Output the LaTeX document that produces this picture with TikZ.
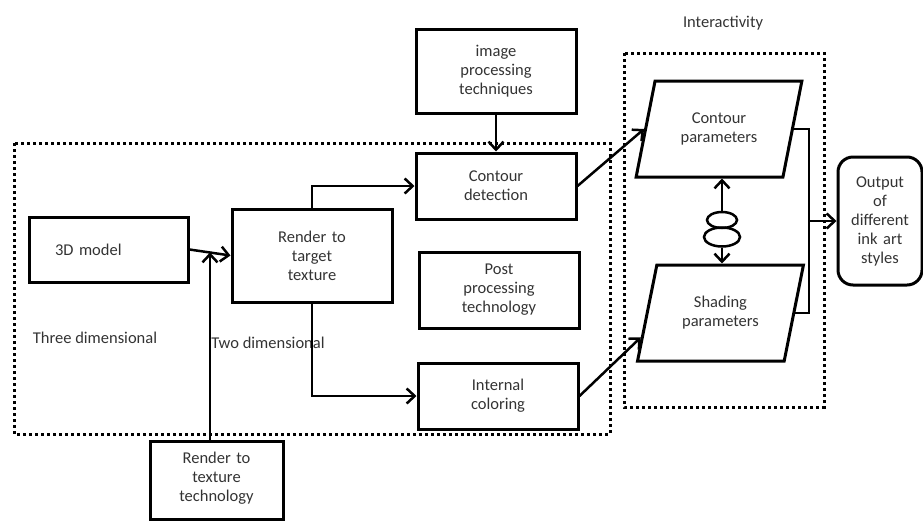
\documentclass[tikz,border=0pt]{standalone}
\usepackage{fontspec}
\setmainfont{Carlito}
\usetikzlibrary{arrows.meta,shapes.geometric,calc}

\begin{document}
\begin{tikzpicture}[x=1pt,y=-1pt,
		font=\fontsize{16.5}{19}\selectfont, text=black!80,
		box/.style={draw=black, line width=3pt, text width=140pt, align=center, inner sep=0pt, minimum width=160pt},
		para/.style={draw=black, trapezium, trapezium left angle=63.3, trapezium right angle=116.7, trapezium stretches=true, line width=3pt, minimum width=166pt, minimum height=96pt, text width=110pt, align=center, inner sep=0pt},
		grp/.style={line width=3pt, dash pattern=on 3pt off 3pt},
		arr/.style={line width=2.5pt, -{Straight Barb[length=8pt,width=15pt]}},
		lnk/.style={line width=2.5pt}]
		\useasboundingbox (0,0) rectangle (923,520);
		\draw[grp] (14,143) rectangle (610,434);
		\draw[grp] (624,53) rectangle (824,407);
		\node[box, minimum height=84pt] (img) at (496,71) {image\\processing\\techniques};
		\node[box, minimum height=66pt] (cdet) at (496,186) {Contour\\detection};
		\node[box, minimum height=76pt] (post) at (499,290) {Post\\processing\\technology};
		\node[box, minimum height=66pt] (icol) at (498,396) {Internal\\coloring};
		\node[box, minimum width=159pt, minimum height=65pt, text width=107pt, align=left] (mod) at (108.5,249.5) {3D model};
		\node[box, minimum height=93pt] (rtt) at (312,255.5) {Render to\\target\\texture};
		\node[box, minimum width=133pt, text width=120pt, anchor=north, inner ysep=11pt, text depth=45pt] (tex) at (216.5,440) {Render to\\texture\\technology};
		\node[para] (cpar) at (719,129) {Contour\\parameters};
		\node[para] (spar) at (720.5,313) {Shading\\parameters};
		\node[box, rounded corners=15pt, minimum width=84pt, minimum height=128pt, text width=76pt] (out) at (880,221) {Output\\of\\different\\ink art\\styles};
		\node[draw=black, ellipse, lnk, minimum width=30pt, minimum height=16pt, inner sep=0pt] (lk1) at (722,220) {};
		\node[draw=black, ellipse, lnk, minimum width=36pt, minimum height=19pt, inner sep=0pt] (lk2) at (722,237) {};
		\node (three) at (95,338) {Three dimensional};
		\node (two) at (268,343) {Two dimensional};
		\node (inter) at (723,23) {Interactivity};
		\draw[arr] (mod.east) -- (rtt.west);
		\coordinate (join) at ($(mod.east)!0.5!(rtt.west)$);
		\draw[arr] (join |- tex.north) -- (join);
		\draw[arr] (rtt.north) |- (cdet.west);
		\draw[arr] (rtt.south) |- (icol.west);
		\draw[arr] (img) -- (cdet);
		\draw[arr] (cdet.east) -- (cpar.west);
		\draw[arr] (icol.east) -- (spar.197);
		\draw[arr] (lk1.north) -- (lk1.north |- cpar.south);
		\draw[arr] (lk2.south) -- (lk2.south |- spar.north);
		\coordinate (tap) at ($(cpar.east)+(15,0)$);
		\draw[lnk] (cpar.east) -- (tap) |- (spar.east);
		\draw[arr] (tap |- out.west) -- (out.west);
	\end{tikzpicture}
\end{document}
